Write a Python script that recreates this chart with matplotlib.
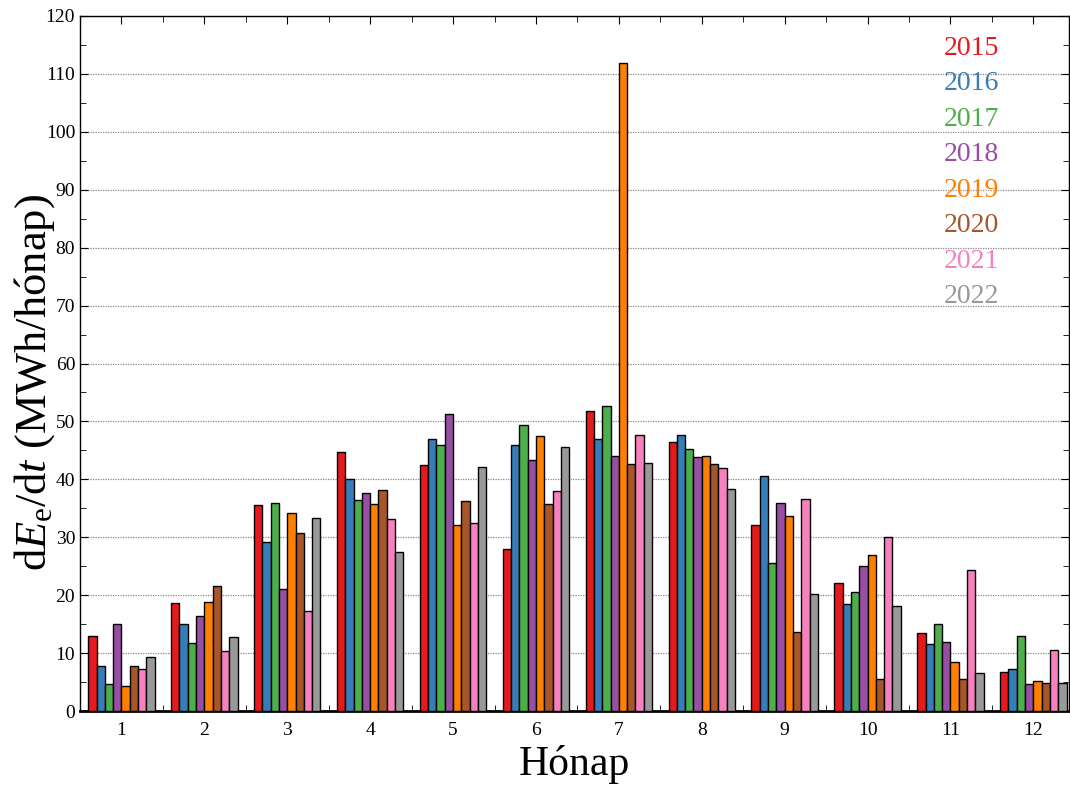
import matplotlib
matplotlib.use("Agg")
import matplotlib.pyplot as plt
import numpy as np

months = [1, 2, 3, 4, 5, 6, 7, 8, 9, 10, 11, 12]
years = ["2015", "2016", "2017", "2018", "2019", "2020", "2021", "2022"]
colors = ["#E41A1C", "#377EB8", "#4DAF4A", "#984EA3", "#FF7F00", "#A65628", "#F781BF", "#999999"]

v2015 = [13.0, 18.6, 35.6, 44.7, 42.4, 27.9, 51.8, 46.5, 32.2, 22.1, 13.5, 6.7]
v2016 = [7.8, 15.0, 29.1, 40.0, 46.9, 46.0, 46.9, 47.6, 40.6, 18.5, 11.5, 7.3]
v2017 = [4.6, 11.7, 36.0, 36.4, 45.9, 49.3, 52.7, 45.3, 25.5, 20.5, 15.1, 12.9]
v2018 = [15.1, 16.4, 21.1, 37.6, 51.2, 43.4, 44.1, 43.9, 35.9, 25.0, 11.9, 4.6]
v2019 = [4.3, 18.8, 34.2, 35.7, 32.2, 47.5, 111.8, 44.0, 33.6, 27.0, 8.5, 5.1]
v2020 = [7.8, 21.6, 30.7, 38.2, 36.3, 35.8, 42.6, 42.7, 13.7, 5.6, 5.6, 4.9]
v2021 = [7.3, 10.3, 17.3, 33.1, 32.5, 37.9, 47.7, 41.9, 36.6, 30.0, 24.3, 10.5]
v2022 = [9.4, 12.8, 33.4, 27.5, 42.2, 45.5, 42.8, 38.3, 20.2, 18.2, 6.5, 4.9]
series = [v2015, v2016, v2017, v2018, v2019, v2020, v2021, v2022]

plt.rcParams["font.family"] = ["Liberation Serif", "DejaVu Serif"]
plt.rcParams["mathtext.fontset"] = "custom"
plt.rcParams["mathtext.rm"] = "Liberation Serif"
plt.rcParams["mathtext.it"] = "Liberation Serif:italic"
plt.rcParams["mathtext.bf"] = "Liberation Serif:bold"

fig = plt.figure(figsize=(10.7, 7.87), dpi=100)
ax = fig.add_axes([80/1070, 76/787, 989/1070, 695/787])

x = np.array(months, dtype=float)
w = 0.1
for i, (vals, c, lab) in enumerate(zip(series, colors, years)):
    ax.bar(x + (i - 3.5) * w, vals, width=w, color=c, edgecolor="black",
           linewidth=1.0, label=lab, zorder=3)

ax.set_xlim(0.5, 12.43)
ax.set_ylim(0, 120)
ax.set_yticks(np.arange(0, 121, 10))
ax.set_yticks(np.arange(0, 121, 5), minor=True)
ax.set_xticks(months)
ax.set_xticks(np.arange(1.5, 12.5, 1), minor=True)
ax.tick_params(axis="both", which="both", direction="in", top=True, right=True)
ax.tick_params(axis="both", which="major", length=6, labelsize=14)
ax.tick_params(axis="both", which="minor", length=4)
ax.tick_params(axis="x", which="major", pad=8)

ax.yaxis.grid(True, which="major", linestyle=(0, (1, 1)), color="#888888", linewidth=0.9, zorder=0)
ax.set_axisbelow(True)

for s in ax.spines.values():
    s.set_linewidth(1.0)
ax.spines["bottom"].set_linewidth(2.0)

ax.set_xlabel("Hónap", fontsize=30, labelpad=4)
ax.set_ylabel(r"d$E_{\mathrm{e}}$/d$t$ (MWh/hónap)", fontsize=32)
ax.yaxis.set_label_coords(-0.023, 0.473)

leg = ax.legend(loc="upper right", bbox_to_anchor=(0.955, 1.008), frameon=False,
                handlelength=0, handletextpad=0, fontsize=20, labelspacing=0.36)
for h in leg.legend_handles:
    h.set_visible(False)
for t, c in zip(leg.get_texts(), colors):
    t.set_color(c)

fig.savefig("out.png", dpi=100)
